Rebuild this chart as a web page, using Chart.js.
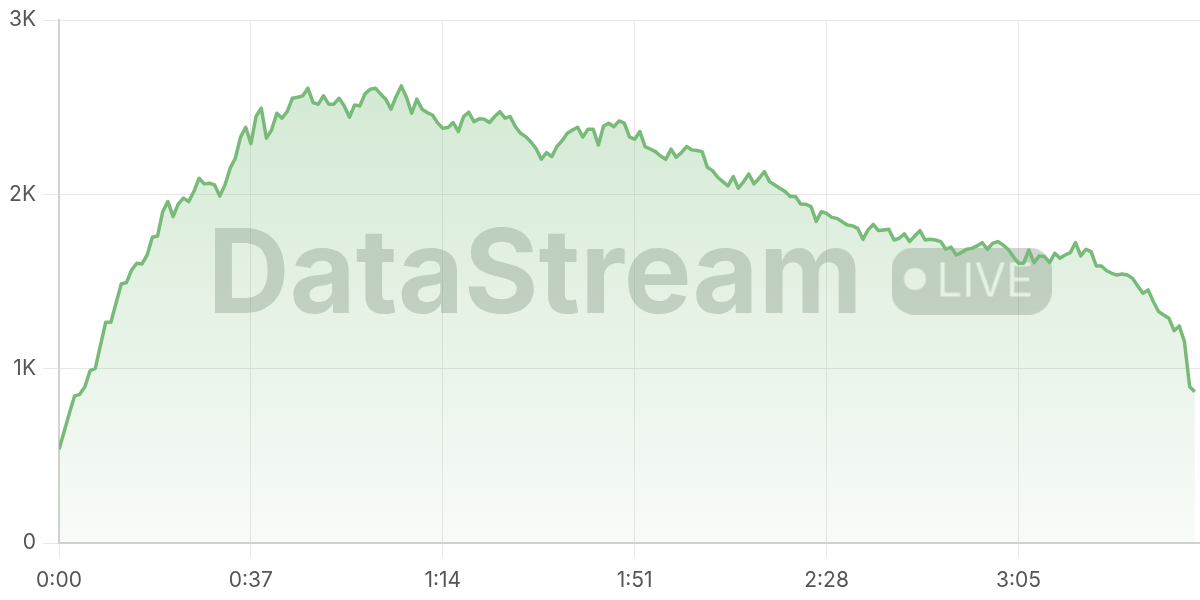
<!DOCTYPE html>
<html><head><meta charset="utf-8">
<script src="https://cdn.jsdelivr.net/npm/chart.js@4/dist/chart.umd.min.js"></script>
<style>html,body{margin:0;padding:0;background:#fff;} #wrap{width:1200px;height:600px;position:relative;}</style>
</head><body><div id="wrap"><canvas id="c"></canvas></div>
<script>
// Viewer counts, one sample per second
const viewers = [
  537, 640, 745, 843, 853, 897, 989, 1002, 1135, 1266,
  1266, 1376, 1486, 1494, 1566, 1605, 1601, 1652, 1754, 1761,
  1901, 1958, 1872, 1945, 1978, 1958, 2016, 2092, 2060, 2064,
  2054, 1990, 2054, 2150, 2207, 2328, 2385, 2291, 2448, 2494,
  2322, 2370, 2465, 2437, 2475, 2551, 2557, 2565, 2609, 2526,
  2517, 2565, 2517, 2517, 2551, 2507, 2442, 2513, 2507, 2576,
  2603, 2609, 2576, 2546, 2488, 2561, 2622, 2557, 2465, 2546,
  2488, 2469, 2455, 2410, 2379, 2383, 2412, 2360, 2446, 2471,
  2417, 2433, 2431, 2412, 2446, 2474, 2437, 2446, 2388, 2350,
  2331, 2300, 2262, 2201, 2239, 2216, 2274, 2308, 2350, 2369,
  2385, 2328, 2374, 2374, 2283, 2392, 2408, 2388, 2421, 2408,
  2330, 2316, 2360, 2274, 2260, 2245, 2220, 2201, 2259, 2213,
  2239, 2274, 2255, 2251, 2245, 2155, 2136, 2098, 2073, 2048,
  2102, 2035, 2073, 2117, 2060, 2092, 2130, 2073, 2054, 2035,
  2016, 1987, 1987, 1945, 1943, 1930, 1845, 1901, 1891, 1868,
  1862, 1843, 1824, 1819, 1805, 1742, 1796, 1828, 1792, 1796,
  1800, 1738, 1748, 1773, 1729, 1761, 1792, 1738, 1742, 1738,
  1729, 1685, 1697, 1652, 1666, 1685, 1690, 1704, 1723, 1685,
  1719, 1729, 1710, 1685, 1643, 1605, 1605, 1681, 1608, 1647,
  1643, 1608, 1662, 1633, 1652, 1666, 1723, 1647, 1685, 1671,
  1589, 1589, 1562, 1547, 1537, 1543, 1537, 1518, 1474, 1432,
  1452, 1385, 1328, 1308, 1289, 1218, 1245, 1155, 897, 868
];
const seconds = viewers.map((_, i) => i);
const xTickValues = [0, 37, 74, 111, 148, 185];
const xTickLabels = ["0:00", "0:37", "1:14", "1:51", "2:28", "3:05"];
const yTickValues = [0, 1000, 2000, 3000];
const yTickLabels = ["0", "1K", "2K", "3K"];
const watermarkText = "DataStream";
const badgeText = "LIVE";

const points = seconds.map((s, i) => ({ x: s, y: viewers[i] }));

const watermark = {
  id: 'watermark',
  beforeDatasetsDraw(chart) {
    const { ctx, chartArea } = chart;
    const cx = (chartArea.left + chartArea.right) / 2;
    const cy = (chartArea.top + chartArea.bottom) / 2;
    ctx.save();
    ctx.fillStyle = 'rgba(105,115,105,0.30)';
    ctx.font = 'bold 117px Inter, "Noto Sans", sans-serif';
    ctx.textBaseline = 'alphabetic';
    ctx.textAlign = 'left';
    const tx = cx - 422, tw = 655;
    ctx.fillText(watermarkText, tx, cy + 31.5, tw);
    ctx.restore();

    // badge with knocked-out dot and text
    const bw = 160, bh = 67, bx = cx + 262, by = cy - 34;
    const off = document.createElement('canvas');
    off.width = bw; off.height = bh;
    const o = off.getContext('2d');
    o.fillStyle = 'rgba(105,115,105,0.30)';
    o.beginPath();
    if (o.roundRect) o.roundRect(0, 0, bw, bh, 22); else o.rect(0, 0, bw, bh);
    o.fill();
    o.globalCompositeOperation = 'destination-out';
    o.fillStyle = '#000';
    o.beginPath();
    o.arc(23.5, 31.5, 11, 0, Math.PI * 2);
    o.fill();
    o.font = '47px Inter, "Noto Sans", sans-serif';
    o.textBaseline = 'alphabetic';
    o.fillText(badgeText, 45, 49, 97);
    ctx.drawImage(off, bx, by);
  }
};

new Chart(document.getElementById('c'), {
  type: 'line',
  data: {
    datasets: [{
      data: points,
      borderColor: 'rgb(120,187,120)',
      borderWidth: 3.5,
      borderJoinStyle: 'round',
      pointRadius: 0,
      tension: 0,
      fill: 'origin',
      backgroundColor: (context) => {
        const { chart } = context;
        const area = chart.chartArea;
        if (!area) return 'rgba(120,187,120,0.2)';
        const g = chart.ctx.createLinearGradient(0, area.top, 0, area.bottom);
        g.addColorStop(0, 'rgba(120,187,120,0.36)');
        g.addColorStop(1, 'rgba(120,187,120,0.05)');
        return g;
      }
    }]
  },
  options: {
    responsive: true,
    maintainAspectRatio: false,
    animation: false,
    devicePixelRatio: 1,
    layout: { padding: { top: 20, right: 0, left: 0, bottom: 0 } },
    plugins: { legend: { display: false }, tooltip: { enabled: false } },
    scales: {
      x: {
        type: 'linear',
        min: 0,
        max: 220,
        afterBuildTicks: (scale) => { scale.ticks = xTickValues.map(v => ({ value: v })); },
        afterFit: (scale) => { scale.height = 57; },
        ticks: {
          autoSkip: false,
          maxRotation: 0,
          padding: 10,
          color: '#555',
          font: { size: 21, family: 'Inter, "Noto Sans", sans-serif' },
          callback: (v) => xTickLabels[xTickValues.indexOf(v)]
        },
        grid: { color: '#e8e8e8', tickLength: 15, lineWidth: 1 },
        border: { color: '#d2d2d2', width: 2 }
      },
      y: {
        min: 0,
        max: 3000,
        afterBuildTicks: (scale) => { scale.ticks = yTickValues.map(v => ({ value: v })); },
        afterFit: (scale) => { scale.width = 59; },
        ticks: {
          padding: 7,
          color: '#555',
          font: { size: 21, family: 'Inter, "Noto Sans", sans-serif' },
          callback: (v) => yTickLabels[yTickValues.indexOf(v)]
        },
        grid: { color: '#e8e8e8', tickLength: 16, lineWidth: 1 },
        border: { color: '#d2d2d2', width: 2 }
      }
    }
  },
  plugins: [watermark]
});
</script>
</body></html>
